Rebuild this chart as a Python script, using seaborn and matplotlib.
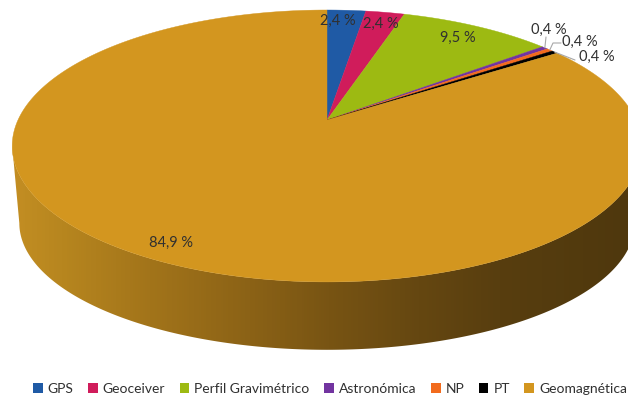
import numpy as np
import matplotlib
matplotlib.use("Agg")
import matplotlib.pyplot as plt
from matplotlib.patches import Polygon, Patch
from matplotlib.colors import LinearSegmentedColormap
import seaborn as sns

# ---- data -------------------------------------------------------------
categories = ["GPS", "Geoceiver", "Perfil Gravimétrico", "Astronómica",
              "NP", "PT", "Geomagnética"]
percentages = [2.4, 2.4, 9.5, 0.4, 0.4, 0.4, 84.9]
value_labels = ["2,4 %", "2,4 %", "9,5 %", "0,4 %", "0,4 %", "0,4 %", "84,9 %"]
slice_colors = ["#1F5AA5", "#D01C5B", "#9DBA12", "#7234A0",
                "#F26B1D", "#000000", "#D3961F"]

# ---- style ------------------------------------------------------------
sns.set_theme(style="white")
plt.rcParams["font.family"] = ["Lato", "DejaVu Sans"]
palette = sns.color_palette(slice_colors)
TEXT = "#303030"

W, H = 628, 398
fig = plt.figure(figsize=(W / 100, H / 100), dpi=100)
ax = fig.add_axes([0, 0, 1, 1])

# ---- perspective model of the disc (angles clockwise from 12 o'clock) --
CX = 327.0
K = 0.191
TOP = dict(cy=120.0, A=309.0, B=131.0)
BOTTOM = dict(cy=199.0, A=302.0, B=122.0)


def project(theta_deg, face, r=1.0):
    t = np.radians(np.asarray(theta_deg, dtype=float))
    x = r * np.sin(t)
    y = r * np.cos(t)
    w = 1 + K * y
    return CX + face["A"] * x / w, face["cy"] - face["B"] * y / w


total = float(sum(percentages))
bounds = np.concatenate([[0.0], np.cumsum(percentages) / total * 360.0])

# ---- side wall (front half) with a horizontal shading gradient --------
theta_r = np.degrees(np.arccos(-K))
theta_l = 360.0 - theta_r
tx, ty = project(np.linspace(theta_r, theta_l, 300), TOP)
bx, by = project(np.linspace(theta_l, theta_r, 300), BOTTOM)
side = Polygon(np.column_stack([np.r_[tx, bx], np.r_[ty, by]]),
               closed=True, facecolor="none", edgecolor="none", zorder=1)
ax.add_patch(side)

stops = [(0.0, "#C69024"), (60 / W, "#B7861F"), (150 / W, "#A2741A"),
         (250 / W, "#8B6216"), (330 / W, "#785413"), (420 / W, "#654711"),
         (500 / W, "#583E0F"), (1.0, "#4F380D")]
shade = LinearSegmentedColormap.from_list("side_shade", stops)
grad = np.tile(np.linspace(0, 1, W), (2, 1))
im = ax.imshow(grad, cmap=shade, extent=(0, W, H, 0), aspect="auto",
               interpolation="bilinear", zorder=1)
im.set_clip_path(side)

# ---- top face slices ---------------------------------------------------
cx0, cy0 = project(0.0, TOP, r=0.0)
for i, color in enumerate(palette):
    a0, a1 = bounds[i], bounds[i + 1]
    n = max(4, int((a1 - a0) * 2))
    ax_, ay_ = project(np.linspace(a0, a1, n), TOP)
    pts = np.column_stack([np.r_[cx0, ax_], np.r_[cy0, ay_]])
    ax.add_patch(Polygon(pts, closed=True, facecolor=color,
                         edgecolor=color, linewidth=0.3, zorder=2))

# ---- value labels -----------------------------------------------------
mids = (bounds[:-1] + bounds[1:]) / 2
inside = {0: (-7, 1), 1: (1, 2), 2: (-6, 3), 6: (-3, 0)}
for i, (dx, dy) in inside.items():
    lx, ly = project(mids[i], TOP, r=0.9)
    ax.text(lx + dx, ly + dy, value_labels[i], ha="center", va="center",
            fontsize=10.5, color=TEXT, zorder=4)

# small slices: labels outside with leader lines
outside = {3: ((549, 30), [(546, 37)]),
           4: ((580, 42), [(553, 43), (561, 43)]),
           5: ((597, 57), [(575, 60)])}
for i, ((lx, ly), path) in outside.items():
    ex, ey = project(mids[i], TOP, r=1.0)
    xs = [float(ex)] + [p[0] for p in path]
    ys = [float(ey)] + [p[1] for p in path]
    ax.plot(xs, ys, color="#A8A8A8", linewidth=0.8, zorder=3)
    ax.text(lx, ly, value_labels[i], ha="center", va="center",
            fontsize=10.5, color=TEXT, zorder=4)

ax.set_xlim(0, W)
ax.set_ylim(H, 0)
ax.axis("off")

# ---- legend -----------------------------------------------------------
handles = [Patch(facecolor=c, edgecolor="none") for c in palette]
leg = fig.legend(handles, categories, ncol=len(categories), loc="center left",
                 bbox_to_anchor=(33 / W, 1 - 389 / H), frameon=False,
                 fontsize=10, handlelength=0.7, handleheight=0.7,
                 handletextpad=0.35, columnspacing=1.05,
                 borderaxespad=0, borderpad=0)
for t in leg.get_texts():
    t.set_color(TEXT)

fig.savefig("out.png", dpi=100, facecolor="white")
